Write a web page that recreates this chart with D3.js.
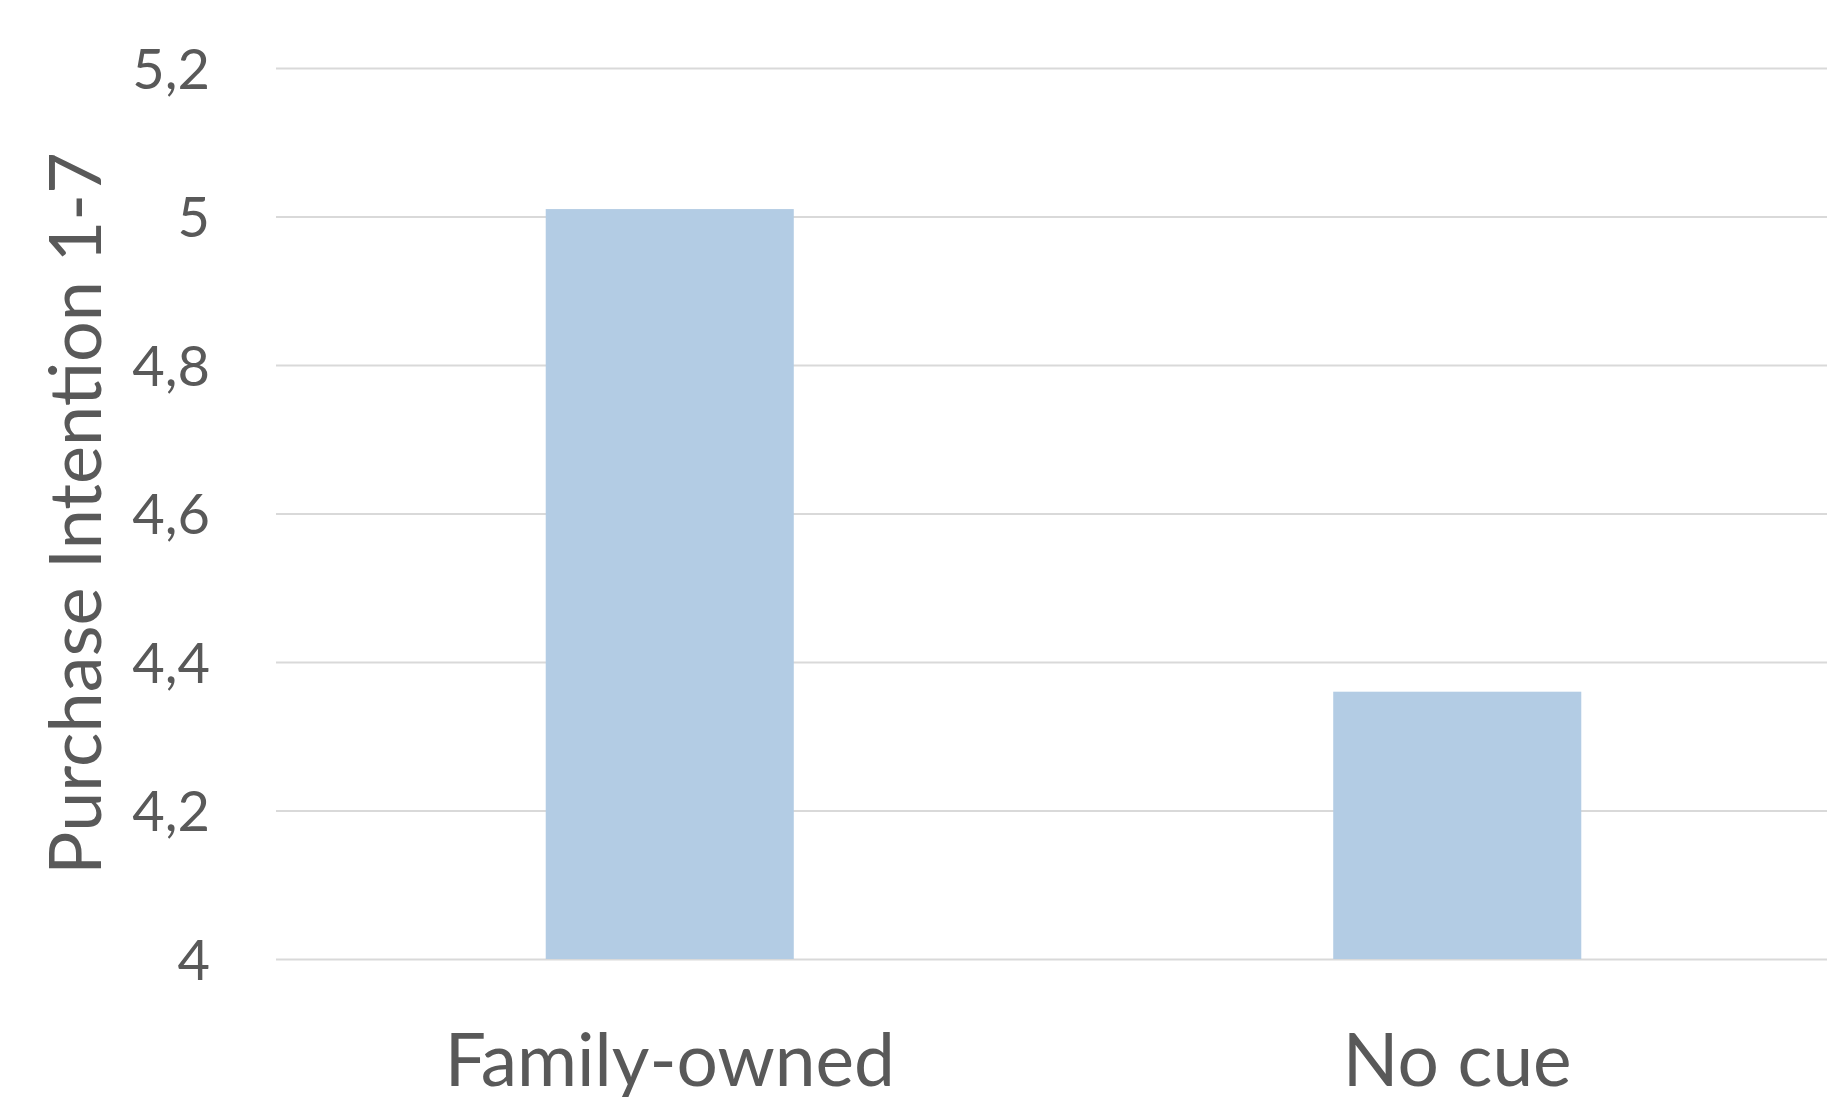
<!DOCTYPE html>
<html>
<head>
<meta charset="utf-8">
<script src="https://cdn.jsdelivr.net/npm/d3@7"></script>
<style>
  html, body { margin: 0; padding: 0; background: #fff; overflow: hidden; }
  svg { display: block; }
  text { font-family: Lato, "Open Sans", sans-serif; fill: #595959; }
</style>
</head>
<body>
<svg id="chart" width="1827" height="1097"></svg>
<script>
const categories = ["Family-owned", "No cue"];
const values = [5.01, 4.36];
const tickValues = [4, 4.2, 4.4, 4.6, 4.8, 5, 5.2];
const tickLabels = ["4", "4,2", "4,4", "4,6", "4,8", "5", "5,2"];
const yTitle = "Purchase Intention 1-7";

const W = 1827, H = 1097;
// plot area extends slightly past the right edge of the picture, as in the original
const m = { left: 276, plotRight: 1851, top: 68, bottom: 138 };
const svg = d3.select("#chart");

const x = d3.scaleBand().domain(categories).range([m.left, m.plotRight])
  .paddingInner(0.685).paddingOuter(0.3425);
const y = d3.scaleLinear().domain([4, 5.2]).range([H - m.bottom, m.top]);

// gridlines
const yGrid = d3.axisLeft(y).tickValues(tickValues).tickSize(-(m.plotRight - m.left)).tickFormat("");
const g = svg.append("g").attr("transform", `translate(${m.left},0)`).call(yGrid);
g.select(".domain").remove();
g.selectAll(".tick line").attr("stroke", "#d9d9d9").attr("stroke-width", 2);

// bars
svg.append("g").selectAll("rect").data(values).join("rect")
  .attr("x", (d, i) => x(categories[i]))
  .attr("width", x.bandwidth())
  .attr("y", d => y(d))
  .attr("height", d => y(4) - y(d))
  .attr("fill", "#b3cce4");

// y tick labels
const yAxis = d3.axisLeft(y).tickValues(tickValues).tickSize(0).tickPadding(0)
  .tickFormat((d, i) => tickLabels[i]);
const ya = svg.append("g").attr("transform", `translate(210,0)`).call(yAxis);
ya.select(".domain").remove();
ya.selectAll("text").attr("font-size", 56).attr("fill", "#595959")
  .style("font-family", "Lato, 'Open Sans', sans-serif").attr("dy", "0.36em");

// x category labels
const xAxis = d3.axisBottom(x).tickSize(0).tickPadding(0);
const xa = svg.append("g").attr("transform", `translate(0,1086)`).call(xAxis);
xa.select(".domain").remove();
xa.selectAll("text").attr("font-size", 73).attr("fill", "#595959")
  .style("font-family", "Lato, 'Open Sans', sans-serif").attr("dy", 0);

// y title
svg.append("text")
  .attr("transform", `translate(101,${(151 + 876) / 2}) rotate(-90)`)
  .attr("text-anchor", "middle")
  .attr("font-size", 72)
  .text(yTitle);
</script>
</body>
</html>
